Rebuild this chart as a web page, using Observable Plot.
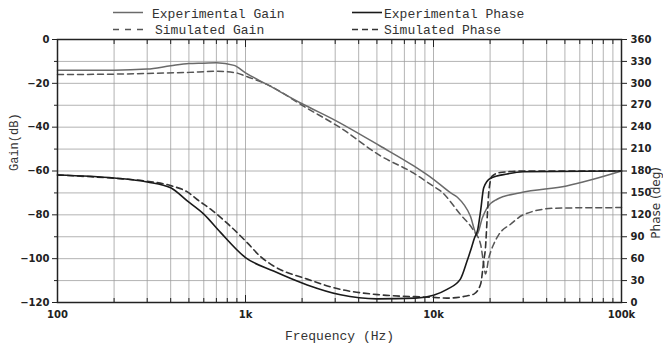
<!DOCTYPE html>
<html><head><meta charset="utf-8">
<script src="https://cdn.jsdelivr.net/npm/d3@7"></script>
<script src="https://cdn.jsdelivr.net/npm/@observablehq/plot@0.6"></script>
<style>
body{margin:0;background:#fff;}
#wrap{position:relative;width:663px;height:347px;background:#fff;}
#legend{position:absolute;left:0;top:0;width:663px;height:38px;z-index:2;}
#legend text{font-family:"Liberation Mono",monospace;font-size:13px;fill:#333;}
</style></head><body>
<div id="wrap">
<div id="chart"></div>
<svg id="legend" width="663" height="38">
  <line x1="113" x2="143" y1="12.5" y2="12.5" stroke="#6a6a6a" stroke-width="1.5"/>
  <text x="152" y="17.5">Experimental Gain</text>
  <line x1="113" x2="143" y1="29.5" y2="29.5" stroke="#555" stroke-width="1.5" stroke-dasharray="6,6"/>
  <text x="155" y="34">Simulated Gain</text>
  <line x1="352" x2="382" y1="12.5" y2="12.5" stroke="#1a1a1a" stroke-width="1.6"/>
  <text x="384" y="17.5">Experimental Phase</text>
  <line x1="352" x2="382" y1="29.5" y2="29.5" stroke="#333" stroke-width="1.6" stroke-dasharray="6,4"/>
  <text x="384" y="34">Simulated Phase</text>
</svg>
</div>
<script>
// Experimental gain (dB)
const expGainFreq = [100,200,300,400,500,600,700,870,1000,1300,2000,3000,5200,7850,10000,12300,13400,15700,17000,18200,19300,21800,29000,51000,100000];
const expGainDb   = [-14,-14,-13.5,-12,-11,-10.8,-10.6,-11.8,-15.2,-20.5,-29.3,-36.9,-48.6,-57.7,-63.8,-69.9,-72,-80.5,-89,-81.3,-76.7,-72.9,-69.9,-66.8,-60];
// Simulated gain (dB)
const simGainFreq = [100,200,300,500,700,900,1000,1300,2130,3200,5200,7850,10000,10900,13900,16400,17800,18500,18900,19700,20900,22300,25700,30000,43600,60000,100000];
const simGainDb   = [-16,-15.8,-15.5,-15,-14.5,-15.3,-16.7,-20.5,-31.4,-40.3,-53,-61,-67,-69.1,-79.8,-87.4,-93.4,-102.6,-107,-99.6,-93.4,-88.9,-84.3,-80,-77,-76.8,-76.7];
// Experimental phase (deg)
const expPhaseFreq = [100,200,300,400,490,600,736,1000,1410,2130,3200,5000,8000,10000,11800,13900,15100,15700,16500,17200,17800,18500,20100,24700,30000,100000];
const expPhaseDeg  = [174.5,170.4,165,157,139,121,96,61.5,43,24,10.5,5,6,10,18,32,57,70,88,100,125,157,170,176,179,180];
// Simulated phase (deg)
const simPhaseFreq = [100,200,300,400,500,553,650,795,1020,1200,1410,2130,3200,5200,10000,11800,15000,16400,17800,18500,18900,19300,19700,20500,22700,30000,100000];
const simPhaseDeg  = [174.5,170,166,160,150,141,128,109,82,63,50,32,18,10.5,7,6,9,11.5,25,57,75,116,152,173,178,180,180];

const decadeTicks = [100,1000,10000,100000];
const decadeLabels = ["100","1k","10k","100k"];
const gainTicks = [-120,-100,-80,-60,-40,-20,0];
const phaseTicks = [0,30,60,90,120,150,180,210,240,270,300,330,360];

const minorTicks = [];
for (const d of [100,1000,10000]) for (let k = 2; k <= 9; k++) minorTicks.push(d*k);
const gridFreqs = minorTicks.concat([1000,10000]);

const toGainAxis = p => p/3 - 120;

const chart = Plot.plot({
  width: 663, height: 347,
  marginLeft: 57, marginRight: 42, marginTop: 39, marginBottom: 45,
  style: {fontFamily: "DejaVu Sans", fontSize: "10px", fontWeight: "bold", color: "#222", background: "#fff"},
  x: {type: "log", domain: [100, 100000]},
  y: {domain: [-120, 0]},
  marks: [
    Plot.gridX(gridFreqs, {stroke: "#999", strokeOpacity: 0.75}),
    Plot.gridY(d3.range(-110, 0, 10), {stroke: "#999", strokeOpacity: 0.75}),
    Plot.line(simGainFreq, {x: simGainFreq, y: simGainDb, stroke: "#555", strokeWidth: 1.5, strokeDasharray: "6,4", curve: "monotone-x"}),
    Plot.line(expGainFreq, {x: expGainFreq, y: expGainDb, stroke: "#6a6a6a", strokeWidth: 1.5, curve: "monotone-x"}),
    Plot.line(simPhaseFreq, {x: simPhaseFreq, y: simPhaseDeg.map(toGainAxis), stroke: "#333", strokeWidth: 1.6, strokeDasharray: "6,4", curve: "monotone-x"}),
    Plot.line(expPhaseFreq, {x: expPhaseFreq, y: expPhaseDeg.map(toGainAxis), stroke: "#1a1a1a", strokeWidth: 1.6, curve: "monotone-x"}),
    Plot.frame({stroke: "#222", strokeWidth: 1.5}),
    Plot.axisY({ticks: gainTicks, tickSize: 5, tickPadding: 3, label: null}),
    Plot.axisY({ticks: d3.range(-110, 0, 20), tickSize: 3, tickFormat: () => "", label: null}),
    Plot.axisY({anchor: "right", ticks: phaseTicks.map(toGainAxis), tickFormat: d => String(Math.round((d + 120) * 3)), tickSize: 5, tickPadding: 4, label: null}),
    Plot.axisX({ticks: decadeTicks, tickFormat: d => decadeLabels[decadeTicks.indexOf(d)], tickSize: 0, tickPadding: 8, label: null}),
    Plot.axisX({ticks: minorTicks, tickSize: -4, tickFormat: () => "", label: null}),
    Plot.axisX({ticks: decadeTicks, tickSize: -7, tickFormat: () => "", label: null}),
    Plot.axisX({anchor: "top", ticks: minorTicks, tickSize: -4, tickFormat: () => "", label: null}),
    Plot.axisX({anchor: "top", ticks: decadeTicks, tickSize: -7, tickFormat: () => "", label: null}),
    Plot.text(["Frequency (Hz)"], {frameAnchor: "bottom", dy: 37, fontFamily: "Liberation Mono", fontSize: 13, fontWeight: "normal", fill: "#333", lineAnchor: "bottom"}),
    Plot.text(["Gain(dB)"], {frameAnchor: "left", dx: -40, rotate: -90, fontFamily: "Liberation Mono", fontSize: 12, fontWeight: "normal", fill: "#333", lineAnchor: "bottom"}),
    Plot.text(["Phase (deg)"], {frameAnchor: "right", dx: 38, dy: -4, rotate: -90, fontFamily: "DejaVu Sans", fontSize: 12, fontWeight: "normal", fill: "#333", lineAnchor: "bottom"})
  ]
});
document.getElementById("chart").appendChild(chart);
</script>
</body></html>
